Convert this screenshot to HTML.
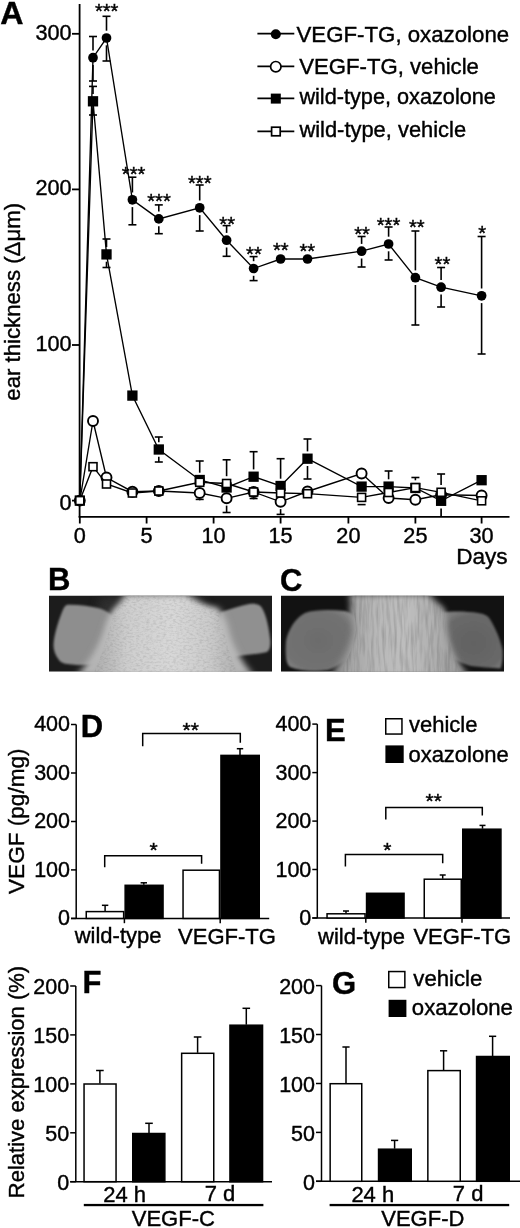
<!DOCTYPE html>
<html><head><meta charset="utf-8"><style>
html,body{margin:0;padding:0;background:#fff;}
svg{display:block;will-change:transform;}
text{stroke:#000;stroke-width:0.4px;}
</style></head><body>
<svg width="520" height="1228" viewBox="0 0 520 1228">
<rect width="520" height="1228" fill="#fff"/>
<g stroke="#000" stroke-width="1.8" fill="none">
<line x1="79.6" y1="4" x2="79.6" y2="517.5"/>
<line x1="78.7" y1="516.9" x2="509.5" y2="516.9"/>
<line x1="72" y1="500.6" x2="80" y2="500.6"/>
<line x1="72" y1="345.0" x2="80" y2="345.0"/>
<line x1="72" y1="189.4" x2="80" y2="189.4"/>
<line x1="72" y1="33.8" x2="80" y2="33.8"/>
<line x1="79.8" y1="516" x2="79.8" y2="523.5"/>
<line x1="146.6" y1="516" x2="146.6" y2="523.5"/>
<line x1="213.6" y1="516" x2="213.6" y2="523.5"/>
<line x1="280.6" y1="516" x2="280.6" y2="523.5"/>
<line x1="348.4" y1="516" x2="348.4" y2="523.5"/>
<line x1="415.4" y1="516" x2="415.4" y2="523.5"/>
<line x1="481.6" y1="516" x2="481.6" y2="523.5"/>
</g>
<g stroke="#000" stroke-width="1.6" fill="none">
<line x1="93.0" y1="50.4" x2="93.0" y2="36.5"/><line x1="89.0" y1="36.5" x2="97.0" y2="36.5"/><line x1="93.0" y1="65.0" x2="93.0" y2="81.0"/><line x1="89.0" y1="81.0" x2="97.0" y2="81.0"/>
<line x1="106.5" y1="30.7" x2="106.5" y2="16.3"/><line x1="102.5" y1="16.3" x2="110.5" y2="16.3"/><line x1="106.5" y1="45.3" x2="106.5" y2="61.0"/><line x1="102.5" y1="61.0" x2="110.5" y2="61.0"/>
<line x1="132.4" y1="192.5" x2="132.4" y2="177.2"/><line x1="128.4" y1="177.2" x2="136.4" y2="177.2"/><line x1="132.4" y1="207.1" x2="132.4" y2="224.8"/><line x1="128.4" y1="224.8" x2="136.4" y2="224.8"/>
<line x1="158.8" y1="211.6" x2="158.8" y2="204.9"/><line x1="154.8" y1="204.9" x2="162.8" y2="204.9"/><line x1="158.8" y1="226.2" x2="158.8" y2="233.7"/><line x1="154.8" y1="233.7" x2="162.8" y2="233.7"/>
<line x1="199.7" y1="200.5" x2="199.7" y2="185.0"/><line x1="195.7" y1="185.0" x2="203.7" y2="185.0"/><line x1="199.7" y1="215.1" x2="199.7" y2="231.0"/><line x1="195.7" y1="231.0" x2="203.7" y2="231.0"/>
<line x1="226.6" y1="232.9" x2="226.6" y2="225.6"/><line x1="222.6" y1="225.6" x2="230.6" y2="225.6"/><line x1="226.6" y1="247.5" x2="226.6" y2="256.3"/><line x1="222.6" y1="256.3" x2="230.6" y2="256.3"/>
<line x1="253.6" y1="261.2" x2="253.6" y2="256.6"/><line x1="249.6" y1="256.6" x2="257.6" y2="256.6"/><line x1="253.6" y1="275.8" x2="253.6" y2="280.6"/><line x1="249.6" y1="280.6" x2="257.6" y2="280.6"/>
<line x1="361.6" y1="243.9" x2="361.6" y2="236.5"/><line x1="357.6" y1="236.5" x2="365.6" y2="236.5"/><line x1="361.6" y1="258.5" x2="361.6" y2="267.0"/><line x1="357.6" y1="267.0" x2="365.6" y2="267.0"/>
<line x1="388.6" y1="236.7" x2="388.6" y2="227.0"/><line x1="384.6" y1="227.0" x2="392.6" y2="227.0"/><line x1="388.6" y1="251.3" x2="388.6" y2="260.0"/><line x1="384.6" y1="260.0" x2="392.6" y2="260.0"/>
<line x1="415.4" y1="270.4" x2="415.4" y2="231.0"/><line x1="411.4" y1="231.0" x2="419.4" y2="231.0"/><line x1="415.4" y1="285.0" x2="415.4" y2="325.0"/><line x1="411.4" y1="325.0" x2="419.4" y2="325.0"/>
<line x1="441.1" y1="279.9" x2="441.1" y2="267.5"/><line x1="437.1" y1="267.5" x2="445.1" y2="267.5"/><line x1="441.1" y1="294.5" x2="441.1" y2="307.0"/><line x1="437.1" y1="307.0" x2="445.1" y2="307.0"/>
<line x1="481.6" y1="288.5" x2="481.6" y2="236.5"/><line x1="477.6" y1="236.5" x2="485.6" y2="236.5"/><line x1="481.6" y1="303.1" x2="481.6" y2="354.0"/><line x1="477.6" y1="354.0" x2="485.6" y2="354.0"/>
<line x1="93.0" y1="94.0" x2="93.0" y2="86.4"/><line x1="89.0" y1="86.4" x2="97.0" y2="86.4"/><line x1="93.0" y1="108.6" x2="93.0" y2="115.0"/><line x1="89.0" y1="115.0" x2="97.0" y2="115.0"/>
<line x1="106.5" y1="247.1" x2="106.5" y2="239.0"/><line x1="102.5" y1="239.0" x2="110.5" y2="239.0"/><line x1="106.5" y1="261.7" x2="106.5" y2="267.5"/><line x1="102.5" y1="267.5" x2="110.5" y2="267.5"/>
<line x1="158.8" y1="442.2" x2="158.8" y2="437.0"/><line x1="154.8" y1="437.0" x2="162.8" y2="437.0"/><line x1="158.8" y1="456.8" x2="158.8" y2="462.0"/><line x1="154.8" y1="462.0" x2="162.8" y2="462.0"/>
<line x1="199.7" y1="472.7" x2="199.7" y2="461.0"/><line x1="195.7" y1="461.0" x2="203.7" y2="461.0"/>
<line x1="253.6" y1="469.4" x2="253.6" y2="451.7"/><line x1="249.6" y1="451.7" x2="257.6" y2="451.7"/>
<line x1="280.6" y1="478.7" x2="280.6" y2="458.7"/><line x1="276.6" y1="458.7" x2="284.6" y2="458.7"/>
<line x1="307.5" y1="451.4" x2="307.5" y2="439.0"/><line x1="303.5" y1="439.0" x2="311.5" y2="439.0"/><line x1="307.5" y1="466.0" x2="307.5" y2="479.0"/><line x1="303.5" y1="479.0" x2="311.5" y2="479.0"/>
<line x1="388.6" y1="479.3" x2="388.6" y2="471.0"/><line x1="384.6" y1="471.0" x2="392.6" y2="471.0"/>

<line x1="199.7" y1="500.3" x2="199.7" y2="499.4"/><line x1="195.7" y1="499.4" x2="203.7" y2="499.4"/>
<line x1="226.6" y1="505.6" x2="226.6" y2="512.5"/><line x1="222.6" y1="512.5" x2="230.6" y2="512.5"/>
<line x1="280.6" y1="509.1" x2="280.6" y2="514.4"/><line x1="276.6" y1="514.4" x2="284.6" y2="514.4"/>
<line x1="253.6" y1="499.3" x2="253.6" y2="498.5"/><line x1="249.6" y1="498.5" x2="257.6" y2="498.5"/>
<line x1="226.6" y1="476.2" x2="226.6" y2="459.8"/><line x1="222.6" y1="459.8" x2="230.6" y2="459.8"/>
<line x1="415.4" y1="480.3" x2="415.4" y2="477.5"/><line x1="411.4" y1="477.5" x2="419.4" y2="477.5"/>
<line x1="441.1" y1="485.0" x2="441.1" y2="474.0"/><line x1="437.1" y1="474.0" x2="445.1" y2="474.0"/>
<line x1="361.6" y1="504.7" x2="361.6" y2="504.6"/><line x1="357.6" y1="504.6" x2="365.6" y2="504.6"/>
</g>
<polyline points="79.8,500.6 93.0,57.7 106.5,38.0 132.4,199.8 158.8,218.9 199.7,207.8 226.6,240.2 253.6,268.5 280.6,259.0 307.5,259.0 361.6,251.2 388.6,244.0 415.4,277.7 441.1,287.2 481.6,295.8" stroke="#000" stroke-width="1.35" fill="none"/>
<g stroke="#000" stroke-width="1.7">
<circle cx="79.8" cy="500.6" r="4.85" fill="#000" stroke="none"/>
<circle cx="93.0" cy="57.7" r="4.85" fill="#000" stroke="none"/>
<circle cx="106.5" cy="38.0" r="4.85" fill="#000" stroke="none"/>
<circle cx="132.4" cy="199.8" r="4.85" fill="#000" stroke="none"/>
<circle cx="158.8" cy="218.9" r="4.85" fill="#000" stroke="none"/>
<circle cx="199.7" cy="207.8" r="4.85" fill="#000" stroke="none"/>
<circle cx="226.6" cy="240.2" r="4.85" fill="#000" stroke="none"/>
<circle cx="253.6" cy="268.5" r="4.85" fill="#000" stroke="none"/>
<circle cx="280.6" cy="259.0" r="4.85" fill="#000" stroke="none"/>
<circle cx="307.5" cy="259.0" r="4.85" fill="#000" stroke="none"/>
<circle cx="361.6" cy="251.2" r="4.85" fill="#000" stroke="none"/>
<circle cx="388.6" cy="244.0" r="4.85" fill="#000" stroke="none"/>
<circle cx="415.4" cy="277.7" r="4.85" fill="#000" stroke="none"/>
<circle cx="441.1" cy="287.2" r="4.85" fill="#000" stroke="none"/>
<circle cx="481.6" cy="295.8" r="4.85" fill="#000" stroke="none"/>
</g>
<polyline points="79.8,500.6 93.0,421.0 106.5,477.5 132.4,491.7 158.8,491.0 199.7,493.0 226.6,498.3 253.6,492.0 280.6,501.8 307.5,491.5 361.6,473.5 388.6,498.0 415.4,499.7 441.1,494.8 481.6,495.5" stroke="#000" stroke-width="1.35" fill="none"/>
<g stroke="#000" stroke-width="1.7">
<circle cx="79.8" cy="500.6" r="5.0" fill="#fff" stroke-width="1.9"/>
<circle cx="93.0" cy="421.0" r="5.0" fill="#fff" stroke-width="1.9"/>
<circle cx="106.5" cy="477.5" r="5.0" fill="#fff" stroke-width="1.9"/>
<circle cx="132.4" cy="491.7" r="5.0" fill="#fff" stroke-width="1.9"/>
<circle cx="158.8" cy="491.0" r="5.0" fill="#fff" stroke-width="1.9"/>
<circle cx="199.7" cy="493.0" r="5.0" fill="#fff" stroke-width="1.9"/>
<circle cx="226.6" cy="498.3" r="5.0" fill="#fff" stroke-width="1.9"/>
<circle cx="253.6" cy="492.0" r="5.0" fill="#fff" stroke-width="1.9"/>
<circle cx="280.6" cy="501.8" r="5.0" fill="#fff" stroke-width="1.9"/>
<circle cx="307.5" cy="491.5" r="5.0" fill="#fff" stroke-width="1.9"/>
<circle cx="361.6" cy="473.5" r="5.0" fill="#fff" stroke-width="1.9"/>
<circle cx="388.6" cy="498.0" r="5.0" fill="#fff" stroke-width="1.9"/>
<circle cx="415.4" cy="499.7" r="5.0" fill="#fff" stroke-width="1.9"/>
<circle cx="441.1" cy="494.8" r="5.0" fill="#fff" stroke-width="1.9"/>
<circle cx="481.6" cy="495.5" r="5.0" fill="#fff" stroke-width="1.9"/>
</g>
<polyline points="79.8,500.6 93.0,101.3 106.5,254.4 132.4,395.6 158.8,449.5 199.7,480.0 226.6,487.5 253.6,476.7 280.6,486.0 307.5,458.7 361.6,486.6 388.6,486.6 415.4,488.0 441.1,500.8 481.6,480.2" stroke="#000" stroke-width="1.35" fill="none"/>
<g stroke="#000" stroke-width="1.7">
<rect x="75.5" y="496.3" width="8.6" height="8.6" fill="#000"/>
<rect x="88.7" y="97.0" width="8.6" height="8.6" fill="#000"/>
<rect x="102.2" y="250.1" width="8.6" height="8.6" fill="#000"/>
<rect x="128.1" y="391.3" width="8.6" height="8.6" fill="#000"/>
<rect x="154.5" y="445.2" width="8.6" height="8.6" fill="#000"/>
<rect x="195.4" y="475.7" width="8.6" height="8.6" fill="#000"/>
<rect x="222.3" y="483.2" width="8.6" height="8.6" fill="#000"/>
<rect x="249.3" y="472.4" width="8.6" height="8.6" fill="#000"/>
<rect x="276.3" y="481.7" width="8.6" height="8.6" fill="#000"/>
<rect x="303.2" y="454.4" width="8.6" height="8.6" fill="#000"/>
<rect x="357.3" y="482.3" width="8.6" height="8.6" fill="#000"/>
<rect x="384.3" y="482.3" width="8.6" height="8.6" fill="#000"/>
<rect x="411.1" y="483.7" width="8.6" height="8.6" fill="#000"/>
<rect x="436.8" y="496.5" width="8.6" height="8.6" fill="#000"/>
<rect x="477.3" y="475.9" width="8.6" height="8.6" fill="#000"/>
</g>
<polyline points="79.8,500.6 93.0,466.7 106.5,484.0 132.4,493.0 158.8,491.0 199.7,482.3 226.6,483.5 253.6,492.0 280.6,493.0 307.5,493.7 361.6,497.4 388.6,492.5 415.4,487.6 441.1,492.3 481.6,500.8" stroke="#000" stroke-width="1.35" fill="none"/>
<g stroke="#000" stroke-width="1.7">
<rect x="75.8" y="496.6" width="8.0" height="8.0" fill="#fff" stroke-width="1.6"/>
<rect x="89.0" y="462.7" width="8.0" height="8.0" fill="#fff" stroke-width="1.6"/>
<rect x="102.5" y="480.0" width="8.0" height="8.0" fill="#fff" stroke-width="1.6"/>
<rect x="128.4" y="489.0" width="8.0" height="8.0" fill="#fff" stroke-width="1.6"/>
<rect x="154.8" y="487.0" width="8.0" height="8.0" fill="#fff" stroke-width="1.6"/>
<rect x="195.7" y="478.3" width="8.0" height="8.0" fill="#fff" stroke-width="1.6"/>
<rect x="222.6" y="479.5" width="8.0" height="8.0" fill="#fff" stroke-width="1.6"/>
<rect x="249.6" y="488.0" width="8.0" height="8.0" fill="#fff" stroke-width="1.6"/>
<rect x="276.6" y="489.0" width="8.0" height="8.0" fill="#fff" stroke-width="1.6"/>
<rect x="303.5" y="489.7" width="8.0" height="8.0" fill="#fff" stroke-width="1.6"/>
<rect x="357.6" y="493.4" width="8.0" height="8.0" fill="#fff" stroke-width="1.6"/>
<rect x="384.6" y="488.5" width="8.0" height="8.0" fill="#fff" stroke-width="1.6"/>
<rect x="411.4" y="483.6" width="8.0" height="8.0" fill="#fff" stroke-width="1.6"/>
<rect x="437.1" y="488.3" width="8.0" height="8.0" fill="#fff" stroke-width="1.6"/>
<rect x="477.6" y="496.8" width="8.0" height="8.0" fill="#fff" stroke-width="1.6"/>
</g>
<line x1="441.1" y1="508.5" x2="441.1" y2="517" stroke="#000" stroke-width="1.7"/>
<g font-family='"Liberation Sans", sans-serif' font-size="20.2" text-anchor="middle">
<text x="106.7" y="18.0">***</text>
<text x="133.6" y="181.2">***</text>
<text x="159" y="208.2">***</text>
<text x="199.8" y="190.0">***</text>
<text x="227.2" y="230.9">**</text>
<text x="253.9" y="261.2">**</text>
<text x="280.8" y="257.2">**</text>
<text x="307.3" y="257.9">**</text>
<text x="362" y="240.9">**</text>
<text x="388.5" y="231.9">***</text>
<text x="416.8" y="234.0">**</text>
<text x="442.4" y="270.9">**</text>
<text x="482.1" y="240.0">*</text>
</g>
<g font-family='"Liberation Sans", sans-serif' font-size="21.7">
<text x="71.6" y="510.1" text-anchor="end">0</text>
<text x="71.6" y="350.6" text-anchor="end">100</text>
<text x="71.6" y="195.0" text-anchor="end">200</text>
<text x="71.6" y="39.8" text-anchor="end">300</text>
<text x="79.8" y="543.1" text-anchor="middle">0</text>
<text x="146.6" y="543.1" text-anchor="middle">5</text>
<text x="213.6" y="543.1" text-anchor="middle">10</text>
<text x="280.6" y="543.1" text-anchor="middle">15</text>
<text x="348.4" y="543.1" text-anchor="middle">20</text>
<text x="415.4" y="543.1" text-anchor="middle">25</text>
<text x="481.6" y="543.1" text-anchor="middle">30</text>
<text x="456.2" y="563.5" font-size="22.6">Days</text>
<text transform="translate(19.6,301.8) rotate(-90)" text-anchor="middle" font-size="22.2">ear thickness (&#916;&#956;m)</text>
</g>
<text x="0.2" y="23.7" font-family='"Liberation Sans", sans-serif' font-size="32.2" font-weight="bold">A</text>
<g font-family='"Liberation Sans", sans-serif' font-size="21.9">
<line x1="257.4" y1="33.6" x2="294.3" y2="33.6" stroke="#000" stroke-width="1.7"/>
<circle cx="275.8" cy="34.2" r="5" fill="#000"/>
<text x="296.5" y="42" font-size="22.25">VEGF-TG, oxazolone</text>
<line x1="257.4" y1="66.3" x2="294.3" y2="66.3" stroke="#000" stroke-width="1.7"/>
<circle cx="275.8" cy="66.7" r="5.2" fill="#fff" stroke="#000" stroke-width="1.7"/>
<text x="299.3" y="73.8" font-size="22.15">VEGF-TG, vehicle</text>
<line x1="257.4" y1="98.4" x2="294.3" y2="98.4" stroke="#000" stroke-width="1.7"/>
<rect x="270.8" y="93.60000000000001" width="10" height="10" fill="#000"/>
<text x="299.4" y="103.7" font-size="21.7">wild-type, oxazolone</text>
<line x1="257.4" y1="131.4" x2="294.3" y2="131.4" stroke="#000" stroke-width="1.7"/>
<rect x="271.6" y="127.2" width="8.6" height="8.6" fill="#fff" stroke="#000" stroke-width="1.7"/>
<text x="299.4" y="136.8" font-size="21.9">wild-type, vehicle</text>
</g>
<g stroke="#000" stroke-width="1.5" fill="none">
<line x1="76.2" y1="724.5" x2="76.2" y2="918.4"/>
<line x1="71.0" y1="918.4" x2="269.2" y2="918.4"/>
<line x1="71.0" y1="918.4" x2="76.2" y2="918.4"/>
<line x1="71.0" y1="869.9" x2="76.2" y2="869.9"/>
<line x1="71.0" y1="821.5" x2="76.2" y2="821.5"/>
<line x1="71.0" y1="773.0" x2="76.2" y2="773.0"/>
<line x1="71.0" y1="724.5" x2="76.2" y2="724.5"/>
<line x1="124.4" y1="918.4" x2="124.4" y2="923.2"/>
<line x1="220.2" y1="918.4" x2="220.2" y2="923.2"/>
<rect x="86.25" y="911.6" width="37.40" height="6.8" fill="#fff"/>
<rect x="125.15" y="885.3" width="37.90" height="33.1" fill="#000"/>
<rect x="183.05" y="870.2" width="36.40" height="48.2" fill="#fff"/>
<rect x="220.95" y="755.4" width="38.30" height="163.0" fill="#000"/>
<line x1="105.1" y1="911.1" x2="105.1" y2="905.3"/><line x1="101.89999999999999" y1="905.3" x2="108.3" y2="905.3"/>
<line x1="143.8" y1="884.8" x2="143.8" y2="882.8"/><line x1="140.60000000000002" y1="882.8" x2="147.0" y2="882.8"/>
<line x1="240" y1="754.9" x2="240" y2="748.7"/><line x1="236.8" y1="748.7" x2="243.2" y2="748.7"/>
<polyline points="104.7,867.3 104.7,855.8 201.6,855.8 201.6,863.8"/>
<polyline points="142.7,746.2 142.7,733.5 240.3,733.5 240.3,742.7"/>
</g>
<g font-family='"Liberation Sans", sans-serif' font-size="21.5" text-anchor="end">
<text x="70.0" y="925.2">0</text>
<text x="70.0" y="876.7">100</text>
<text x="70.0" y="828.3">200</text>
<text x="70.0" y="779.8">300</text>
<text x="70.0" y="731.3">400</text>
</g>
<text x="118.1" y="942.8" font-family='"Liberation Sans", sans-serif' font-size="22" text-anchor="middle">wild-type</text>
<text x="227" y="944.4" font-family='"Liberation Sans", sans-serif' font-size="22" text-anchor="middle">VEGF-TG</text>
<text x="153.5" y="857" font-family='"Liberation Sans", sans-serif' font-size="21" text-anchor="middle">*</text>
<text x="190.8" y="737" font-family='"Liberation Sans", sans-serif' font-size="21" text-anchor="middle">**</text>
<g stroke="#000" stroke-width="1.5" fill="none">
<line x1="317.3" y1="724.1" x2="317.3" y2="918.0"/>
<line x1="312.3" y1="918.0" x2="510" y2="918.0"/>
<line x1="312.3" y1="918.0" x2="317.3" y2="918.0"/>
<line x1="312.3" y1="869.5" x2="317.3" y2="869.5"/>
<line x1="312.3" y1="821.1" x2="317.3" y2="821.1"/>
<line x1="312.3" y1="772.6" x2="317.3" y2="772.6"/>
<line x1="312.3" y1="724.1" x2="317.3" y2="724.1"/>
<line x1="365.8" y1="918.0" x2="365.8" y2="922.8"/>
<line x1="462" y1="918.0" x2="462" y2="922.8"/>
<rect x="327.05" y="913.8" width="38.00" height="4.2" fill="#fff"/>
<rect x="366.55" y="893.3" width="37.50" height="24.7" fill="#000"/>
<rect x="424.25" y="879.2" width="37.00" height="38.8" fill="#fff"/>
<rect x="462.75" y="829.2" width="38.20" height="88.8" fill="#000"/>
<line x1="346" y1="913.3" x2="346" y2="911.0"/><line x1="343.0" y1="911.0" x2="349.0" y2="911.0"/>
<line x1="442.7" y1="878.7" x2="442.7" y2="875.0"/><line x1="439.7" y1="875.0" x2="445.7" y2="875.0"/>
<line x1="482.5" y1="828.7" x2="482.5" y2="825.4"/><line x1="479.5" y1="825.4" x2="485.5" y2="825.4"/>
<polyline points="345.4,866.5 345.4,854.6 442.7,854.6 442.7,863.3"/>
<polyline points="385.8,819.4 385.8,807.5 482.3,807.5 482.3,815.4"/>
</g>
<g font-family='"Liberation Sans", sans-serif' font-size="21.5" text-anchor="end">
<text x="311.3" y="925.0">0</text>
<text x="311.3" y="876.5">100</text>
<text x="311.3" y="828.1">200</text>
<text x="311.3" y="779.6">300</text>
<text x="311.3" y="731.1">400</text>
</g>
<text x="361.5" y="944.4" font-family='"Liberation Sans", sans-serif' font-size="22" text-anchor="middle">wild-type</text>
<text x="462.3" y="944.4" font-family='"Liberation Sans", sans-serif' font-size="22" text-anchor="middle">VEGF-TG</text>
<text x="387.3" y="857.2" font-family='"Liberation Sans", sans-serif' font-size="21" text-anchor="middle">*</text>
<text x="433.8" y="808.2" font-family='"Liberation Sans", sans-serif' font-size="21" text-anchor="middle">**</text>
<text x="80.7" y="736.7" font-family='"Liberation Sans", sans-serif' font-size="31" font-weight="bold">D</text>
<text x="325" y="740.6" font-family='"Liberation Sans", sans-serif' font-size="31" font-weight="bold">E</text>
<text transform="translate(24.2,821.2) rotate(-90)" text-anchor="middle" font-family='"Liberation Sans", sans-serif' font-size="22.6">VEGF (pg/mg)</text>
<rect x="385.75" y="718.75" width="16.2" height="15.3" fill="#fff" stroke="#000" stroke-width="1.5"/>
<rect x="385.4" y="745.4" width="18.3" height="17.6" fill="#000"/>
<text x="409" y="732.2" font-family='"Liberation Sans", sans-serif' font-size="22">vehicle</text>
<text x="408.4" y="761.5" font-family='"Liberation Sans", sans-serif' font-size="22">oxazolone</text>
<g stroke="#000" stroke-width="1.5" fill="none">
<line x1="75.8" y1="986.0" x2="75.8" y2="1181.7"/>
<line x1="70.2" y1="1181.7" x2="272" y2="1181.7"/>
<line x1="70.2" y1="1181.7" x2="75.8" y2="1181.7"/>
<line x1="70.2" y1="1132.8" x2="75.8" y2="1132.8"/>
<line x1="70.2" y1="1083.9" x2="75.8" y2="1083.9"/>
<line x1="70.2" y1="1034.9" x2="75.8" y2="1034.9"/>
<line x1="70.2" y1="986.0" x2="75.8" y2="986.0"/>
<rect x="84.05" y="1084.0" width="32.00" height="97.7" fill="#fff"/>
<rect x="132.75" y="1133.5" width="32.10" height="48.2" fill="#000"/>
<rect x="181.65" y="1053.3" width="32.10" height="128.4" fill="#fff"/>
<rect x="229.95" y="1025.2" width="32.60" height="156.5" fill="#000"/>
<line x1="99.9" y1="1083.5" x2="99.9" y2="1070.5"/><line x1="96.10000000000001" y1="1070.5" x2="103.7" y2="1070.5"/>
<line x1="149" y1="1133.0" x2="149" y2="1123.3"/><line x1="145.2" y1="1123.3" x2="152.8" y2="1123.3"/>
<line x1="197.6" y1="1052.8" x2="197.6" y2="1037.0"/><line x1="193.79999999999998" y1="1037.0" x2="201.4" y2="1037.0"/>
<line x1="246.3" y1="1024.7" x2="246.3" y2="1008.3"/><line x1="242.5" y1="1008.3" x2="250.10000000000002" y2="1008.3"/>
</g>
<g font-family='"Liberation Sans", sans-serif' font-size="21.5" text-anchor="end">
<text x="69.2" y="1189.7">0</text>
<text x="69.2" y="1140.8">50</text>
<text x="69.2" y="1091.9">100</text>
<text x="69.2" y="1042.9">150</text>
<text x="69.2" y="994.0">200</text>
</g>
<text x="124.6" y="1201.9" font-family='"Liberation Sans", sans-serif' font-size="22" text-anchor="middle">24 h</text>
<text x="220" y="1201.2" font-family='"Liberation Sans", sans-serif' font-size="22" text-anchor="middle">7 d</text>
<text x="173.3" y="1225.5" font-family='"Liberation Sans", sans-serif' font-size="22" text-anchor="middle">VEGF-C</text>
<g stroke="#000" stroke-width="1.5" fill="none">
<line x1="321.5" y1="985.6" x2="321.5" y2="1181.3"/>
<line x1="316.0" y1="1181.3" x2="520" y2="1181.3"/>
<line x1="316.0" y1="1181.3" x2="321.5" y2="1181.3"/>
<line x1="316.0" y1="1132.4" x2="321.5" y2="1132.4"/>
<line x1="316.0" y1="1083.5" x2="321.5" y2="1083.5"/>
<line x1="316.0" y1="1034.5" x2="321.5" y2="1034.5"/>
<line x1="316.0" y1="985.6" x2="321.5" y2="985.6"/>
<rect x="330.15" y="1083.7" width="31.60" height="97.6" fill="#fff"/>
<rect x="378.55" y="1149.2" width="32.70" height="32.1" fill="#000"/>
<rect x="427.85" y="1070.6" width="32.40" height="110.7" fill="#fff"/>
<rect x="476.55" y="1056.5" width="32.70" height="124.8" fill="#000"/>
<line x1="346" y1="1083.2" x2="346" y2="1047.0"/><line x1="342.4" y1="1047.0" x2="349.6" y2="1047.0"/>
<line x1="394.6" y1="1148.7" x2="394.6" y2="1140.4"/><line x1="391.0" y1="1140.4" x2="398.20000000000005" y2="1140.4"/>
<line x1="443.6" y1="1070.1" x2="443.6" y2="1050.8"/><line x1="440.0" y1="1050.8" x2="447.20000000000005" y2="1050.8"/>
<line x1="492.6" y1="1056.0" x2="492.6" y2="1036.3"/><line x1="489.0" y1="1036.3" x2="496.20000000000005" y2="1036.3"/>
</g>
<g font-family='"Liberation Sans", sans-serif' font-size="21.5" text-anchor="end">
<text x="315.0" y="1190.0">0</text>
<text x="315.0" y="1141.1">50</text>
<text x="315.0" y="1092.2">100</text>
<text x="315.0" y="1043.2">150</text>
<text x="315.0" y="994.3">200</text>
</g>
<text x="372.8" y="1202.2" font-family='"Liberation Sans", sans-serif' font-size="22" text-anchor="middle">24 h</text>
<text x="468.1" y="1201.2" font-family='"Liberation Sans", sans-serif' font-size="22" text-anchor="middle">7 d</text>
<text x="422.8" y="1225.6" font-family='"Liberation Sans", sans-serif' font-size="22" text-anchor="middle">VEGF-D</text>
<rect x="83.8" y="1203.9" width="179.6" height="2.3" fill="#000"/>
<rect x="329.6" y="1203.9" width="179.6" height="2.3" fill="#000"/>
<text x="82.4" y="993" font-family='"Liberation Sans", sans-serif' font-size="31" font-weight="bold">F</text>
<text x="332" y="993.75" font-family='"Liberation Sans", sans-serif' font-size="31" font-weight="bold">G</text>
<text transform="translate(24.3,1082) rotate(-90)" text-anchor="middle" font-family='"Liberation Sans", sans-serif' font-size="22">Relative expression (%)</text>
<rect x="388.75" y="971.55" width="16.1" height="16" fill="#fff" stroke="#000" stroke-width="1.5"/>
<rect x="388.6" y="999.8" width="17.8" height="17.2" fill="#000"/>
<text x="413.3" y="985.6" font-family='"Liberation Sans", sans-serif' font-size="22.2">vehicle</text>
<text x="411.8" y="1014.7" font-family='"Liberation Sans", sans-serif' font-size="22.2">oxazolone</text>
<text x="48" y="590.2" font-family='"Liberation Sans", sans-serif' font-size="31" font-weight="bold">B</text>
<text x="280" y="591" font-family='"Liberation Sans", sans-serif' font-size="31" font-weight="bold">C</text>
<defs>
<clipPath id="cpB"><rect x="49" y="595.5" width="223" height="76.2"/></clipPath>
<clipPath id="cpC"><rect x="281" y="595.5" width="223" height="76.2"/></clipPath>
<filter id="bl1" x="-10%" y="-10%" width="120%" height="120%"><feGaussianBlur stdDeviation="0.9"/></filter>
<filter id="bl2" x="-10%" y="-10%" width="120%" height="120%"><feGaussianBlur stdDeviation="3"/></filter>
<filter id="bl3" x="-10%" y="-10%" width="120%" height="120%"><feGaussianBlur stdDeviation="5"/></filter>
<filter id="tex" x="0" y="0" width="100%" height="100%"><feTurbulence type="fractalNoise" baseFrequency="0.3 0.55" numOctaves="2" seed="3"/><feColorMatrix type="matrix" values="0 0 0 0 0  0 0 0 0 0  0 0 0 0 0  1.2 0 0 0 -0.5"/></filter>
<filter id="tex2" x="0" y="0" width="100%" height="100%"><feTurbulence type="fractalNoise" baseFrequency="0.35 0.04" numOctaves="2" seed="7"/><feColorMatrix type="matrix" values="0 0 0 0 0  0 0 0 0 0  0 0 0 0 0  1.4 0 0 0 -0.55"/></filter>
<clipPath id="cpFurB"><path d="M92,676 C100,660 106,642 110,626 C113,614 120,604 128,594 L188,594 C198,600 208,606 218,612 C224,632 230,652 238,676 Z"/></clipPath>
<clipPath id="cpFurC"><path d="M338,676 C348,660 354,645 356,630 C356,615 350,605 350,594 L428,594 C434,600 440,606 446,612 C445,630 450,650 462,676 Z"/></clipPath>
<linearGradient id="gFurB" x1="0" y1="0" x2="1" y2="0"><stop offset="0" stop-color="#a8a8a8"/><stop offset="0.25" stop-color="#cecece"/><stop offset="0.55" stop-color="#d8d8d8"/><stop offset="0.8" stop-color="#cbcbcb"/><stop offset="1" stop-color="#acacac"/></linearGradient>
<linearGradient id="gFurC" x1="0" y1="0" x2="1" y2="0"><stop offset="0" stop-color="#9a9a9a"/><stop offset="0.3" stop-color="#b8b8b8"/><stop offset="0.55" stop-color="#bebebe"/><stop offset="0.8" stop-color="#acacac"/><stop offset="1" stop-color="#989898"/></linearGradient>
<radialGradient id="gEarCL" cx="0.45" cy="0.5" r="0.6"><stop offset="0" stop-color="#6c6c6c"/><stop offset="0.8" stop-color="#727272"/><stop offset="1" stop-color="#858585"/></radialGradient>
<radialGradient id="gEarCR" cx="0.55" cy="0.55" r="0.6"><stop offset="0" stop-color="#626262"/><stop offset="0.8" stop-color="#686868"/><stop offset="1" stop-color="#7a7a7a"/></radialGradient>
</defs>
<g clip-path="url(#cpB)">
<rect x="49" y="595.5" width="223" height="76.2" fill="#1c1c1c"/>
<path filter="url(#bl3)" d="M100,596 L200,596 L230,640 L90,640 Z" fill="#3a3a3a" opacity="0.6"/>
<path filter="url(#bl1)" d="M67.5,604.8 C78,604.5 90,606 100,608.5 C106,610.5 111,613.5 116,619 L118,645 L98,663 C90,665.5 80,665.5 72,664.5 C65,664 61,663 59,660 C55,655 53.5,650 53.5,645 C54,635 58,622 62,612 C63.5,608 65,605.5 67.5,604.8 Z" fill="#8e8e8e"/>
<path filter="url(#bl1)" d="M220,612.5 C230,609 240,606 248,604.2 C254,603.3 258,603.6 261,606.5 C265,612 268,622 270,638 C271,645 270,650 267,652 C260,654 250,654.5 242,655.5 L230,658 L222,640 Z" fill="#909090"/>
<path filter="url(#bl2)" d="M76,676 C88,664 98,648 104,630 C108,616 112,610 118,607 L216,607 C224,612 228,622 230,634 C234,648 242,662 254,676 Z" fill="#b8b8b8"/>
<path filter="url(#bl2)" d="M90,676 C98,660 105,642 109,626 C112,614 118,604 126,594 L186,594 C196,600 206,606 216,612 C222,632 230,652 240,676 Z" fill="url(#gFurB)"/>
<g clip-path="url(#cpFurB)"><rect x="85" y="594" width="160" height="80" filter="url(#tex)" opacity="0.18"/></g>
</g>
<g clip-path="url(#cpC)">
<rect x="281" y="595.5" width="223" height="76.2" fill="#121212"/>
<path filter="url(#bl1)" d="M286,641 C288,630 295,618 305,613 C315,609.5 330,609.5 345,611 C352,612.5 356,616 357,622 L358,645 C352,657 342,665 328,670 C315,672 300,671 290,667 C286,664 285,655 286,641 Z" fill="url(#gEarCL)"/>
<path filter="url(#bl1)" d="M438,613 C450,611 465,611 478,613 C484,614 487,615.5 489,617.7 C495,627 500,638 502.5,650 C503,658 502,664 500.5,668.5 C490,668 480,667 470.5,666 C460,663 452,659 447,654.6 Z" fill="url(#gEarCR)"/>
<path filter="url(#bl2)" d="M330,676 C342,660 350,645 352,630 C352,618 350,612 350,606 L440,606 C446,612 446,630 446,640 C450,655 458,665 470,676 Z" fill="#8a8a8a"/>
<path filter="url(#bl2)" d="M338,676 C348,660 354,645 356,630 C356,615 350,605 349,594 L429,594 C434,600 440,606 445,612 C444,630 450,650 464,676 Z" fill="url(#gFurC)"/>
<g clip-path="url(#cpFurC)"><rect x="330" y="594" width="140" height="80" filter="url(#tex2)" opacity="0.22"/></g>
</g>
</svg>
</body></html>
